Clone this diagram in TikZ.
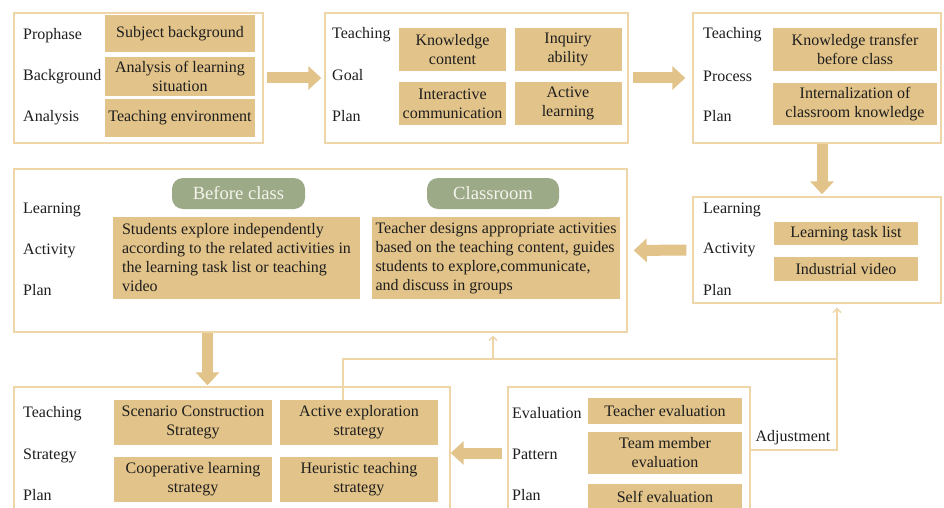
\documentclass[tikz,border=0pt]{standalone}
\usepackage{fontspec}
\setmainfont{Liberation Serif}
\usetikzlibrary{arrows.meta}
\definecolor{tanfill}{HTML}{E2C389}
\definecolor{edgecol}{HTML}{EFD6A8}
\definecolor{sage}{HTML}{9DAA88}
\definecolor{ink}{HTML}{1E1E1E}
\definecolor{pilltext}{HTML}{F4F4EC}
\newcommand\fsn{\fontsize{16}{19}\selectfont}
\newcommand\fsp{\fontsize{18.6}{21}\selectfont}
\tikzset{
  outer/.style={draw=edgecol, line width=1.4pt, inner sep=0pt},
  fbox/.style={fill=tanfill, text=ink, align=center, inner sep=0pt, font=\fsn},
  tbox/.style={fill=tanfill, text=ink, align=left, inner sep=0pt, font=\fsn},
  lab/.style={anchor=west, text=ink, font=\fsn, inner sep=0pt, yshift=-1.5pt},
  pill/.style={fill=sage, rounded corners=11pt, text=pilltext, font=\fsp, inner sep=0pt},
  blk/.style={draw=tanfill, line width=11pt, -{Triangle[length=13pt,width=23pt]}},
  thinline/.style={draw=edgecol, line width=1.3pt},
  thinarrow/.style={thinline, -{Straight Barb[length=4pt,width=8pt]}},
}
\begin{document}
\begin{tikzpicture}[x=1pt,y=-1pt]
\clip (0,0) rectangle (944,508);
\fill[white] (0,0) rectangle (944,508);

% ---------- Box 1 ----------
\node[outer, minimum width=249pt, minimum height=130pt] (b1) at (138.5,78) {};
\node[lab] (l11) at (23,34) {Prophase};
\node[lab] (l12) at (23,75) {Background};
\node[lab] (l13) at (23,116) {Analysis};
\node[fbox, minimum width=150pt, minimum height=37pt] (f11) at (180,33.5) {Subject background};
\node[fbox, minimum width=150pt, minimum height=39pt] (f12) at (180,76.5) {Analysis of learning\\situation};
\node[fbox, minimum width=150pt, minimum height=38pt] (f13) at (180,118) {Teaching environment};

% ---------- Box 2 ----------
\node[outer, minimum width=303pt, minimum height=130pt] (b2) at (476.5,78) {};
\node[lab] (l21) at (332,33) {Teaching};
\node[lab] (l22) at (332,74) {Goal};
\node[lab] (l23) at (332,115) {Plan};
\node[fbox, minimum width=107pt, minimum height=43pt] (f21) at (452.5,49.5) {Knowledge\\content};
\node[fbox, minimum width=107pt, minimum height=43pt] (f22) at (568,49.5) {Inquiry\\ability};
\node[fbox, minimum width=107pt, minimum height=43pt] (f23) at (452.5,103.5) {Interactive\\communication};
\node[fbox, minimum width=107pt, minimum height=43pt] (f24) at (568,103.5) {Active\\learning};

% ---------- Box 3 ----------
\node[outer, minimum width=248pt, minimum height=130pt] (b3) at (817,78) {};
\node[lab] (l31) at (703,33) {Teaching};
\node[lab] (l32) at (703,75) {Process};
\node[lab] (l33) at (703,115) {Plan};
\node[fbox, minimum width=164pt, minimum height=43pt] (f31) at (855,49.5) {Knowledge transfer\\before class};
\node[fbox, minimum width=164pt, minimum height=42pt] (f32) at (855,104) {Internalization of\\classroom knowledge};

% ---------- Box 4 ----------
\node[outer, minimum width=248pt, minimum height=106pt] (b4) at (817,250) {};
\node[lab] (l41) at (703,208) {Learning};
\node[lab] (l42) at (703,248) {Activity};
\node[lab] (l43) at (703,289) {Plan};
\node[fbox, minimum width=144pt, minimum height=23pt] (f41) at (846,233.5) {Learning task list};
\node[fbox, minimum width=144pt, minimum height=24pt] (f42) at (846,269) {Industrial video};

% ---------- Box 5 ----------
\node[outer, minimum width=613pt, minimum height=163pt] (b5) at (320.5,250.5) {};
\node[lab] (l51) at (23,208) {Learning};
\node[lab] (l52) at (23,249) {Activity};
\node[lab] (l53) at (23,289) {Plan};
\node[pill, minimum width=133pt, minimum height=31pt] (p51) at (238.5,193.5) {Before class};
\node[pill, minimum width=132pt, minimum height=31pt] (p52) at (493,193.5) {Classroom};
\node[tbox, minimum width=247pt, minimum height=82pt] (f51) at (236.5,258)
  {Students explore independently\\according to the related activities in\\the learning task list or teaching\\video};
\node[tbox, minimum width=248pt, minimum height=82pt] (f52) at (496,258)
  {Teacher designs appropriate activities\\based on the teaching content, guides\\students to explore,communicate,\\and discuss in groups};

% ---------- Box 6 ----------
\node[outer, minimum width=436pt, minimum height=126pt] (b6) at (232,450) {};
\node[lab] (l61) at (23,412) {Teaching};
\node[lab] (l62) at (23,454) {Strategy};
\node[lab] (l63) at (23,494) {Plan};
\node[fbox, minimum width=158pt, minimum height=45pt] (f61) at (193,422.5) {Scenario Construction\\Strategy};
\node[fbox, minimum width=158pt, minimum height=45pt] (f62) at (359,422.5) {Active exploration\\strategy};
\node[fbox, minimum width=158pt, minimum height=45pt] (f63) at (193,479.5) {Cooperative learning\\strategy};
\node[fbox, minimum width=158pt, minimum height=45pt] (f64) at (359,479.5) {Heuristic teaching\\strategy};

% ---------- Box 7 ----------
\node[outer, minimum width=242pt, minimum height=126pt] (b7) at (629,450) {};
\node[lab] (l71) at (512,412) {Evaluation};
\node[lab] (l72) at (512,453) {Pattern};
\node[lab] (l73) at (512,494) {Plan};
\node[fbox, minimum width=154pt, minimum height=26pt] (f71) at (665,411) {Teacher evaluation};
\node[fbox, minimum width=154pt, minimum height=42pt] (f72) at (665,453) {Team member\\evaluation};
\node[fbox, minimum width=154pt, minimum height=26pt] (f73) at (665,497) {Self evaluation};

\node[lab, anchor=center] (adj) at (793,436) {Adjustment};

% ---------- Block arrows ----------
\draw[blk, shorten <=3pt, shorten >=3pt] (b1.east) -- (b2.west);
\draw[blk, shorten <=4pt, shorten >=7pt] (b2.east) -- (b3.west);
\draw[blk, shorten >=2pt] ([xshift=5pt]b3.south) -- ([xshift=5pt]b4.north);
\draw[blk, shorten <=6pt, shorten >=6pt] (b4.west) -- (b5.east);
\coordinate (a5) at (207.5,360);
\draw[blk, shorten >=1pt] (a5 |- b5.south) -- (a5 |- b6.north);
\coordinate (a6) at (480,453);
\draw[blk, shorten <=5pt] (b7.west |- a6) -- (b6.east |- a6);

% ---------- Thin feedback lines ----------
\coordinate (j1) at (343,359);
\coordinate (j2) at (837,359);
\coordinate (j3) at (493,359);
\coordinate (j4) at (837,450);
\draw[thinline] (f62.north -| j1) -- (j1) -- (j2);
\draw[thinarrow, shorten >=4pt] (b7.east |- j4) -- (j4) -- (b4.south -| j4);
\draw[thinarrow, shorten >=3pt] (j3) -- (b5.south -| j3);
\end{tikzpicture}
\end{document}
